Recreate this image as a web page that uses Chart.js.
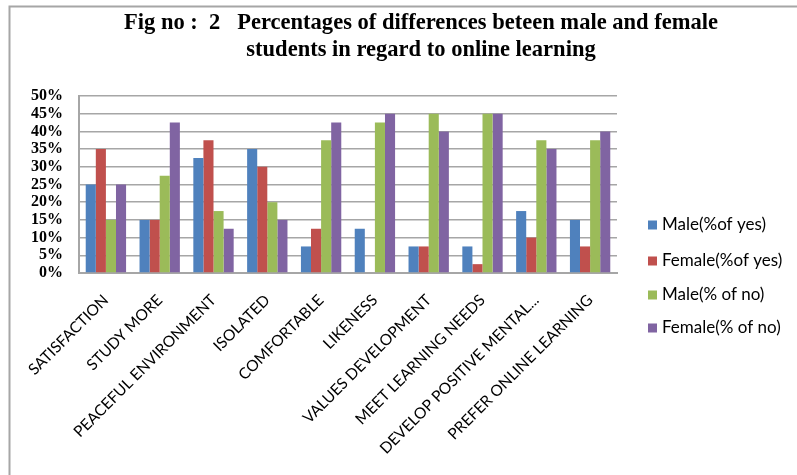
<!DOCTYPE html>
<html>
<head>
<meta charset="utf-8">
<script src="https://cdn.jsdelivr.net/npm/chart.js@4.4.1/dist/chart.umd.min.js"></script>
<style>
  html, body { margin: 0; padding: 0; background: #fff; }
  #wrap { width: 797px; height: 475px; }
</style>
</head>
<body>
<div id="wrap"><canvas id="c" width="797" height="475"></canvas></div>
<script>
// Survey items on the x axis
const categories = [
  'SATISFACTION', 'STUDY MORE', 'PEACEFUL ENVIRONMENT', 'ISOLATED', 'COMFORTABLE',
  'LIKENESS', 'VALUES DEVELOPMENT', 'MEET LEARNING NEEDS', 'DEVELOP POSITIVE MENTAL...',
  'PREFER ONLINE LEARNING'
];

// Percentages per group
const maleYes   = [25, 15, 32.5, 35, 7.5, 12.5, 7.5, 7.5, 17.5, 15];
const femaleYes = [35, 15, 37.5, 30, 12.5, 0, 7.5, 2.5, 10, 7.5];
const maleNo    = [15, 27.5, 17.5, 20, 37.5, 42.5, 45, 45, 37.5, 37.5];
const femaleNo  = [25, 42.5, 12.5, 15, 42.5, 45, 40, 45, 35, 40];

const seriesLabels = ['Male(%of yes)', 'Female(%of yes)', 'Male(% of no)', 'Female(% of no)'];
const seriesColors = ['#4F81BD', '#C0504D', '#9BBB59', '#8064A2'];

const titleLines = [
  'Fig no :  2   Percentages of differences beteen male and female',
  'students in regard to online learning'
];

// Frame, title and legend drawn directly on the canvas
const decorations = {
  id: 'decorations',
  beforeDraw(chart) {
    const ctx = chart.ctx;
    ctx.save();
    ctx.strokeStyle = '#a6a6a6';
    ctx.lineWidth = 2;
    ctx.beginPath();
    ctx.moveTo(9.5, 475);
    ctx.lineTo(9.5, 6.5);
    ctx.lineTo(797, 6.5);
    ctx.stroke();
    ctx.restore();
  },
  afterDraw(chart) {
    const ctx = chart.ctx;
    // title: condensed bold serif
    ctx.save();
    ctx.fillStyle = '#000';
    ctx.font = 'bold 23px "Liberation Serif"';
    ctx.textAlign = 'center';
    ctx.textBaseline = 'alphabetic';
    const w0 = ctx.measureText(titleLines[0]).width;
    const sx = 594 / w0;
    const baselines = [29, 56];
    titleLines.forEach((t, i) => {
      ctx.save();
      ctx.translate(421, baselines[i]);
      ctx.scale(sx, 1);
      ctx.fillText(t, 0, 0);
      ctx.restore();
    });
    ctx.restore();

    // legend
    ctx.save();
    ctx.font = '17px Lato';
    ctx.textBaseline = 'middle';
    ctx.textAlign = 'left';
    const ys = [225, 261, 295, 328];
    chart.data.datasets.forEach((ds, i) => {
      ctx.fillStyle = ds.backgroundColor;
      ctx.fillRect(648, ys[i] - 4.5, 9, 9);
      ctx.fillStyle = '#000';
      ctx.fillText(ds.label, 662, ys[i]);
    });
    ctx.restore();
  }
};

const datasets = [maleYes, femaleYes, maleNo, femaleNo].map((vals, i) => ({
  label: seriesLabels[i],
  data: vals,
  backgroundColor: seriesColors[i],
  borderWidth: 0,
  categoryPercentage: 0.75,
  barPercentage: 1.0
}));

new Chart(document.getElementById('c'), {
  type: 'bar',
  data: { labels: categories, datasets },
  options: {
    responsive: false,
    animation: false,
    layout: { padding: { left: 0, top: 96, right: 180, bottom: 0 } },
    plugins: {
      legend: { display: false },
      title: { display: false },
      tooltip: { enabled: false }
    },
    scales: {
      x: {
        grid: { display: false, drawTicks: false },
        border: { display: true, color: '#a6a6a6', width: 2 },
        ticks: {
          autoSkip: false,
          maxRotation: 45,
          minRotation: 45,
          padding: 18,
          color: '#000',
          font: { family: 'Lato', size: 15.5 }
        },
        afterFit(scale) {
          scale.height = 475 - 273;
          scale.paddingLeft = 0;
          scale.paddingRight = 0;
        }
      },
      y: {
        min: 0,
        max: 50,
        grid: { color: '#a6a6a6', lineWidth: 1.5, drawTicks: false },
        border: { display: true, color: '#a6a6a6', width: 2 },
        ticks: {
          stepSize: 5,
          autoSkip: false,
          padding: 16,
          color: '#000',
          font: { family: '"Liberation Serif"', size: 16, weight: 'bold' },
          callback: v => v + '%'
        },
        afterFit(scale) {
          scale.width = 79;
        }
      }
    }
  },
  plugins: [decorations]
});
</script>
</body>
</html>
